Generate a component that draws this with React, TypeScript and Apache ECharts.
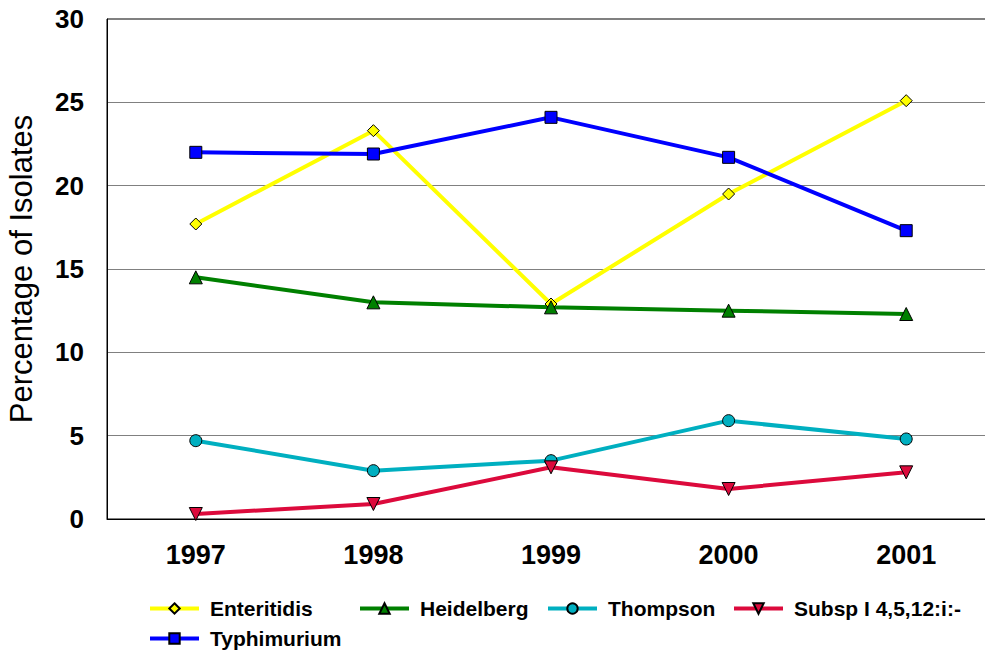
import React, { useEffect, useRef } from "react";
import * as echarts from "echarts";

const years = ["1997", "1998", "1999", "2000", "2001"];
const enteritidis = [17.7, 23.3, 12.9, 19.5, 25.1];
const heidelberg = [14.5, 13.0, 12.7, 12.5, 12.3];
const thompson = [4.7, 2.9, 3.5, 5.9, 4.8];
const subsp = [0.3, 0.9, 3.1, 1.8, 2.8];
const typhimurium = [22.0, 21.9, 24.1, 21.7, 17.3];

const yMin = 0;
const yMax = 30;
const yStep = 5;

const FONT = "'Liberation Sans', Arial, Helvetica, sans-serif";

const seriesDefs = [
  { name: "Enteritidis", data: enteritidis, color: "#FFFF00", symbol: "diamond", size: 12, rotate: 0 },
  { name: "Heidelberg", data: heidelberg, color: "#008000", symbol: "triangle", size: 13, rotate: 0 },
  { name: "Thompson", data: thompson, color: "#00AFC0", symbol: "circle", size: 12, rotate: 0 },
  { name: "Subsp I 4,5,12:i:-", data: subsp, color: "#DC0A3C", symbol: "triangle", size: 13, rotate: 180 },
  { name: "Typhimurium", data: typhimurium, color: "#0000FF", symbol: "rect", size: 12, rotate: 0 },
];

const legendPos = [
  { left: 148, top: 598 },
  { left: 358, top: 598 },
  { left: 546, top: 598 },
  { left: 732, top: 598 },
  { left: 148, top: 628 },
];

export default function App() {
  const ref = useRef<HTMLDivElement>(null);
  useEffect(() => {
    if (!ref.current) return;
    const chart = echarts.init(ref.current, null, { renderer: "svg" });
    chart.setOption({
      animation: false,
      backgroundColor: "#FFFFFF",
      textStyle: { fontFamily: FONT },
      grid: {
        left: 107,
        top: 19,
        width: 888,
        height: 500,
        outerBoundsMode: "none",
        containLabel: false,
        show: true,
        borderColor: "#000000",
        borderWidth: 1,
        backgroundColor: "transparent",
      },
      legend: seriesDefs.map((s, i) => ({
        data: [s.name],
        left: legendPos[i].left,
        top: legendPos[i].top,
        itemWidth: 49,
        itemHeight: 13,
        padding: 0,
        selectedMode: false,
        lineStyle: { width: 4 },
        textStyle: {
          fontFamily: FONT,
          fontSize: 21,
          fontWeight: "bold",
          color: "#000000",
          padding: [0, 0, 0, 6],
        },
      })),
      xAxis: {
        type: "category",
        data: years,
        boundaryGap: true,
        axisLine: { show: true, lineStyle: { color: "#000000", width: 1 } },
        axisTick: { show: false },
        axisLabel: {
          margin: 22,
          fontFamily: FONT,
          fontSize: 27,
          fontWeight: "bold",
          color: "#000000",
        },
        splitLine: { show: false },
      },
      yAxis: {
        type: "value",
        min: yMin,
        max: yMax,
        interval: yStep,
        name: "Percentage of Isolates",
        nameLocation: "middle",
        nameRotate: 90,
        nameGap: 70,
        nameTextStyle: { fontFamily: FONT, fontSize: 31, color: "#000000" },
        axisLine: { show: true, lineStyle: { color: "#000000", width: 1 } },
        axisTick: { show: false },
        axisLabel: {
          margin: 23,
          fontFamily: FONT,
          fontSize: 26,
          fontWeight: "bold",
          color: "#000000",
        },
        splitLine: { show: true, lineStyle: { color: "#808080", width: 1 } },
      },
      series: seriesDefs.map((s) => ({
        type: "line",
        name: s.name,
        data: s.data,
        symbol: s.symbol,
        symbolSize: s.size,
        symbolRotate: s.rotate,
        showAllSymbol: true,
        lineStyle: { color: s.color, width: 4 },
        itemStyle: { color: s.color, borderColor: "#000000", borderWidth: 1 },
        emphasis: { disabled: true },
      })),
    });
    return () => chart.dispose();
  }, []);
  return (
    <div
      style={{
        position: "absolute",
        left: 0,
        top: 0,
        width: 985,
        height: 653,
        overflow: "hidden",
        background: "#FFFFFF",
      }}
    >
      <div ref={ref} style={{ width: 1005, height: 653 }} />
    </div>
  );
}
